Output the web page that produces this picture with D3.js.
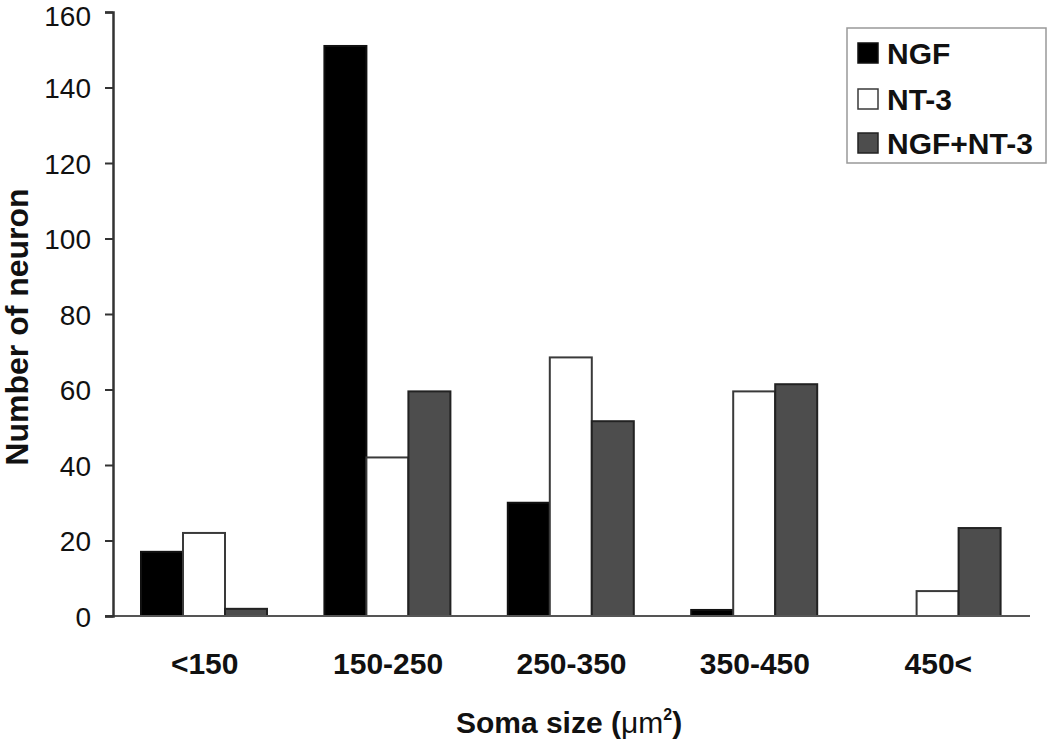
<!DOCTYPE html>
<html>
<head>
<meta charset="utf-8">
<script src="https://cdn.jsdelivr.net/npm/d3@7"></script>
<style>
  html, body { margin: 0; padding: 0; background: #fff; }
  svg { display: block; font-family: "Liberation Sans", Arial, Helvetica, sans-serif; }
</style>
</head>
<body>
<svg id="chart" width="1050" height="744"></svg>
<script>
const categories = ["<150", "150-250", "250-350", "350-450", "450<"];
const seriesNames = ["NGF", "NT-3", "NGF+NT-3"];
const ngf = [17, 151, 30, 1.6, 0];
const nt3 = [22, 42, 68.5, 59.5, 6.6];
const ngfNt3 = [1.9, 59.5, 51.6, 61.4, 23.3];
const yTicks = [0, 20, 40, 60, 80, 100, 120, 140, 160];

const seriesValues = [ngf, nt3, ngfNt3];
const fills = ["#000000", "#ffffff", "#4d4d4d"];
const strokes = ["#111111", "#3a3a3a", "#222222"];

const svg = d3.select("#chart");
svg.append("rect").attr("width", 1050).attr("height", 744).attr("fill", "#fff");

const y = d3.scaleLinear().domain([0, 160]).range([616, 12]);
const x0 = d3.scaleBand().domain(categories).range([113, 1030]).padding(0);
const x1 = d3.scaleBand().domain(seriesNames).range([28, 154]).padding(0);

// bars
const groups = svg.append("g").selectAll("g")
  .data(categories)
  .join("g")
  .attr("transform", d => `translate(${x0(d)},0)`);

groups.selectAll("rect")
  .data((c, i) => seriesNames.map((s, j) => ({ s, j, v: seriesValues[j][i] })).filter(d => d.v > 0))
  .join("rect")
  .attr("x", d => x1(d.s))
  .attr("width", x1.bandwidth())
  .attr("y", d => y(d.v))
  .attr("height", d => y(0) - y(d.v))
  .attr("fill", d => fills[d.j])
  .attr("stroke", d => strokes[d.j])
  .attr("stroke-width", 2);

// x baseline
svg.append("line")
  .attr("x1", 105).attr("x2", 1030)
  .attr("y1", y(0)).attr("y2", y(0))
  .attr("stroke", "#555").attr("stroke-width", 2);

// y axis
const yAxis = svg.append("g")
  .attr("transform", "translate(113,0)")
  .call(d3.axisLeft(y).tickValues(yTicks).tickSize(8).tickPadding(14));
yAxis.select(".domain").attr("stroke", "#333").attr("stroke-width", 2.5);
yAxis.selectAll(".tick line").attr("stroke", "#333").attr("stroke-width", 2);
yAxis.selectAll("text").attr("font-size", 28).attr("fill", "#111")
  .attr("dy", d => d === 160 ? "0.48em" : "0.36em")
  .attr("font-family", "'Liberation Sans', Arial, sans-serif");

// x axis labels
const xAxis = svg.append("g")
  .attr("transform", `translate(0,${y(0)})`)
  .call(d3.axisBottom(x0).tickSize(0).tickPadding(37));
xAxis.select(".domain").remove();
xAxis.selectAll("text").attr("font-size", 30).attr("font-weight", "bold").attr("fill", "#111")
  .attr("font-family", "'Liberation Sans', Arial, sans-serif");

// y title
svg.append("text")
  .attr("transform", "translate(28,327) rotate(-90)")
  .attr("text-anchor", "middle")
  .attr("font-size", 32).attr("font-weight", "bold").attr("fill", "#111")
  .text("Number of neuron");

// x title
const xt = svg.append("text")
  .attr("x", 569).attr("y", 733)
  .attr("text-anchor", "middle")
  .attr("font-size", 30).attr("font-weight", "bold").attr("fill", "#111");
xt.append("tspan").text("Soma size (");
xt.append("tspan").attr("font-weight", "normal").text("\u03bcm");
xt.append("tspan").attr("font-size", 16).attr("dy", -13).text("2");
xt.append("tspan").attr("dy", 13).text(")");

// legend
const legend = svg.append("g");
legend.append("rect")
  .attr("x", 847).attr("y", 28).attr("width", 199).attr("height", 135)
  .attr("fill", "#fff").attr("stroke", "#999").attr("stroke-width", 1.5);
const rowTops = [43, 89, 133];
seriesNames.forEach((s, j) => {
  legend.append("rect")
    .attr("x", 858).attr("y", rowTops[j]).attr("width", 20).attr("height", 20)
    .attr("fill", fills[j]).attr("stroke", strokes[j]).attr("stroke-width", 1.5);
  legend.append("text")
    .attr("x", 887).attr("y", rowTops[j] + 21)
    .attr("font-size", 30).attr("font-weight", "bold").attr("fill", "#111")
    .text(s);
});
</script>
</body>
</html>
